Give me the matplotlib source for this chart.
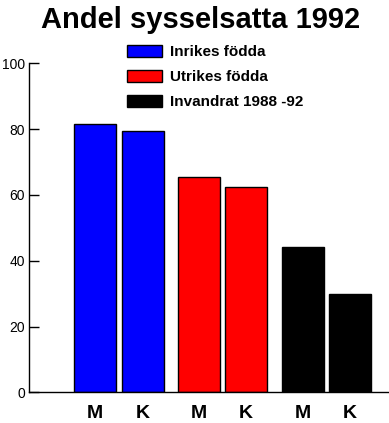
import matplotlib.pyplot as plt

plt.rcParams['font.family'] = ['Liberation Sans', 'DejaVu Sans']

# Data
groups = ['Inrikes födda', 'Utrikes födda', 'Invandrat 1988 -92']
colors = ['#0000ff', '#ff0000', '#000000']
sexes = ['M', 'K']
values = [[81.6, 79.5],
          [65.3, 62.5],
          [44.2, 30.0]]

# bar centres (layout only)
pos = [[94.5, 143.0], [198.5, 246.0], [302.7, 349.5]]
bar_w = 42

fig = plt.figure(figsize=(3.89, 4.23), dpi=100)
ax = fig.add_axes([29 / 389, (423 - 392.3) / 423, 360 / 389, 329 / 423])

handles = []
for g, col, xs, vals in zip(groups, colors, pos, values):
    b = ax.bar(xs, vals, width=bar_w, color=col, edgecolor='black', linewidth=1, label=g)
    handles.append(b)

ax.set_xlim(29, 389)
ax.set_ylim(0, 100)
ax.set_yticks([0, 20, 40, 60, 80, 100])
ax.yaxis.set_tick_params(which='major', left=True, direction='in', length=7.5,
                         width=1, color='black', labelsize=10, pad=3)

all_x = [x for xs in pos for x in xs]
ax.set_xticks(all_x)
ax.set_xticklabels(sexes * len(groups), fontsize=14, fontweight='bold')
ax.tick_params(axis='x', length=0, pad=9)

ax.spines['top'].set_visible(False)
ax.spines['right'].set_visible(False)
ax.spines['left'].set_linewidth(1)
ax.spines['bottom'].set_linewidth(1)

fig.text(201 / 389, 1 - 28 / 423, 'Andel sysselsatta 1992', fontsize=21,
         fontweight='bold', ha='center', va='baseline')

leg = fig.legend(handles=handles, labels=groups, loc='upper left',
                 bbox_to_anchor=(127 / 389, 1 - 45 / 423), frameon=False,
                 prop={'weight': 'bold', 'size': 11},
                 handlelength=2.3, handleheight=0.8, handletextpad=0.5,
                 labelspacing=0.72, borderaxespad=0, borderpad=0)

fig.savefig('out.png', dpi=100)
